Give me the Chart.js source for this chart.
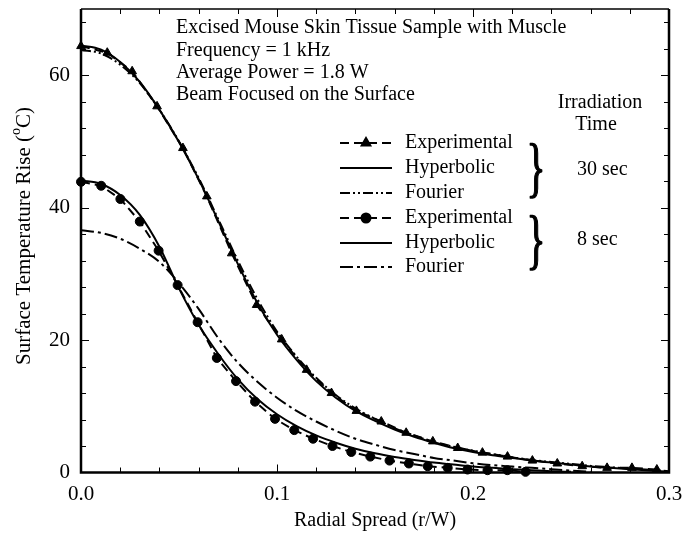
<!DOCTYPE html>
<html><head><meta charset="utf-8">
<script src="https://cdn.jsdelivr.net/npm/chart.js@4/dist/chart.umd.min.js"></script>
<style>html,body{margin:0;padding:0;background:#fff;} #wrap{width:684px;height:539px;position:relative;}</style>
</head><body><div id="wrap"><canvas id="c" width="684" height="539"></canvas></div>
<script>
const FONT = '"Liberation Serif", "Times New Roman", serif';

// Tick labels
const xTickValues = [0, 0.1, 0.2, 0.3];
const yTickValues = [0, 20, 40, 60];

// Experimental, 30 sec (triangles)
const exp30X = [0.000, 0.0134, 0.0261, 0.0388, 0.0520, 0.0642, 0.0769, 0.0896, 0.1024, 0.1151, 0.1278, 0.1405, 0.1532, 0.1659, 0.1795, 0.1922, 0.2048, 0.2176, 0.2303, 0.2430, 0.2557, 0.2684, 0.2811, 0.2938];
const exp30Y = [64.4, 63.4, 60.6, 55.3, 49.0, 41.7, 33.1, 25.3, 20.1, 15.5, 12.0, 9.3, 7.7, 6.0, 4.7, 3.7, 3.0, 2.4, 1.8, 1.36, 0.95, 0.7, 0.7, 0.45];

// Experimental, 8 sec (circles)
const exp8X = [0.000, 0.0103, 0.0201, 0.0300, 0.0396, 0.0493, 0.0595, 0.0693, 0.0791, 0.0888, 0.0990, 0.1088, 0.1184, 0.1283, 0.1379, 0.1476, 0.1574, 0.1673, 0.1769, 0.1871, 0.1972, 0.2074, 0.2175, 0.2268];
const exp8Y = [43.9, 43.3, 41.3, 37.9, 33.5, 28.3, 22.7, 17.3, 13.8, 10.7, 8.1, 6.4, 5.1, 4.0, 3.1, 2.4, 1.8, 1.36, 0.95, 0.7, 0.45, 0.35, 0.35, 0.1];

// Model curves, 30 sec
const curve30X = [0, 0.01, 0.02, 0.03, 0.04, 0.05, 0.06, 0.07, 0.08, 0.09, 0.10, 0.11, 0.12, 0.13, 0.14, 0.15, 0.16, 0.17, 0.18, 0.19, 0.20, 0.21, 0.22, 0.23, 0.24, 0.25, 0.26, 0.27, 0.28, 0.29, 0.30];
const hyp30Y = [64.5, 63.9, 62.0, 59.0, 54.8, 49.9, 44.3, 38.0, 31.5, 25.6, 20.8, 17.0, 13.8, 11.3, 9.3, 7.8, 6.5, 5.4, 4.5, 3.7, 3.1, 2.6, 2.2, 1.8, 1.5, 1.2, 0.9, 0.7, 0.5, 0.3, 0.1];
const four30Y = [63.8, 63.3, 61.6, 58.8, 54.8, 50.0, 44.5, 38.3, 32.0, 26.2, 21.3, 17.5, 14.3, 11.7, 9.7, 8.1, 6.7, 5.6, 4.6, 3.9, 3.3, 2.8, 2.3, 1.9, 1.6, 1.3, 1.0, 0.8, 0.6, 0.4, 0.2];

// Model curves, 8 sec
const hyp8X = [0, 0.01, 0.02, 0.03, 0.04, 0.05, 0.06, 0.07, 0.08, 0.09, 0.10, 0.11, 0.12, 0.13, 0.14, 0.15, 0.16, 0.17, 0.18, 0.19, 0.20, 0.21, 0.22, 0.23, 0.24, 0.25];
const hyp8Y = [44.1, 43.6, 41.9, 38.9, 34.1, 27.8, 22.3, 17.9, 14.1, 11.1, 8.8, 7.0, 5.6, 4.5, 3.6, 2.9, 2.35, 1.9, 1.5, 1.2, 0.9, 0.7, 0.5, 0.35, 0.2, 0.1];
const four8X = [0, 0.01, 0.02, 0.03, 0.04, 0.05, 0.06, 0.07, 0.08, 0.09, 0.10, 0.11, 0.12, 0.13, 0.14, 0.15, 0.16, 0.17, 0.18, 0.19, 0.20, 0.21, 0.22, 0.23, 0.24, 0.25, 0.26];
const four8Y = [36.6, 36.2, 35.3, 33.8, 31.8, 28.6, 24.7, 20.3, 16.6, 13.7, 11.3, 9.3, 7.7, 6.3, 5.1, 4.2, 3.4, 2.8, 2.2, 1.8, 1.4, 1.1, 0.9, 0.7, 0.5, 0.3, 0.1];

const infoLines = ['Excised Mouse Skin Tissue Sample with Muscle', 'Frequency = 1 kHz', 'Average Power = 1.8 W', 'Beam Focused on the Surface'];
const legendLabels = ['Experimental', 'Hyperbolic', 'Fourier', 'Experimental', 'Hyperbolic', 'Fourier'];
const groupLabels = ['30 sec', '8 sec'];

const DASH_EXP = [9, 5];
const DASH_F30 = [10, 3, 2, 3, 2, 3];
const DASH_F8 = [13, 4, 3, 4];

function pts(xs, ys) { return xs.map((x, i) => ({x: x, y: ys[i]})); }

function lineDs(data, dash) {
  return {data: data, borderColor: '#000', borderWidth: 2, borderDash: dash, pointRadius: 0,
    cubicInterpolationMode: 'monotone', fill: false, clip: false};
}

const datasets = [
  lineDs(pts(curve30X, four30Y), DASH_F30),
  lineDs(pts(curve30X, hyp30Y), []),
  lineDs(pts(four8X, four8Y), DASH_F8),
  lineDs(pts(hyp8X, hyp8Y), []),
  {data: pts(exp30X, exp30Y), borderColor: '#000', borderWidth: 2, borderDash: DASH_EXP, pointStyle: 'triangle',
   pointRadius: 5, pointBackgroundColor: '#000', pointBorderColor: '#000', pointBorderWidth: 1, fill: false, clip: false, tension: 0},
  {data: pts(exp8X, exp8Y), borderColor: '#000', borderWidth: 2, borderDash: DASH_EXP, pointStyle: 'circle',
   pointRadius: 4.5, pointBackgroundColor: '#000', pointBorderColor: '#000', pointBorderWidth: 1, fill: false, clip: false, tension: 0}
];

const decor = {
  id: 'decor',
  afterDraw(chart) {
    const ctx = chart.ctx, a = chart.chartArea, xs = chart.scales.x, ys = chart.scales.y;
    ctx.save();
    ctx.strokeStyle = '#000'; ctx.fillStyle = '#000';
    // frame
    ctx.setLineDash([]);
    ctx.lineWidth = 2.5;
    ctx.beginPath();
    ctx.moveTo(a.left, a.top); ctx.lineTo(a.left, a.bottom); ctx.lineTo(a.right, a.bottom); ctx.lineTo(a.right, a.top);
    ctx.stroke();
    ctx.lineWidth = 1.3;
    ctx.beginPath(); ctx.moveTo(a.left, a.top); ctx.lineTo(a.right, a.top); ctx.stroke();
    // inward ticks
    ctx.lineWidth = 1;
    for (let i = 1; i < 15; i++) {
      const v = i * 0.02, px = Math.round(xs.getPixelForValue(v)) + 0.5, len = (i % 5 === 0) ? 8 : 5;
      ctx.beginPath(); ctx.moveTo(px, a.bottom); ctx.lineTo(px, a.bottom - len);
      ctx.moveTo(px, a.top); ctx.lineTo(px, a.top + len); ctx.stroke();
    }
    for (let i = 1; i < 18; i++) {
      const v = i * 4, py = Math.round(ys.getPixelForValue(v)) + 0.5, len = (v % 20 === 0) ? 8 : 5;
      ctx.beginPath(); ctx.moveTo(a.left, py); ctx.lineTo(a.left + len, py);
      ctx.moveTo(a.right, py); ctx.lineTo(a.right - len, py); ctx.stroke();
    }
    // y title with superscript
    ctx.save();
    ctx.translate(23, 236); ctx.rotate(-Math.PI / 2);
    const f20 = '20px ' + FONT, f21 = '21px ' + FONT, f13 = '14px ' + FONT;
    ctx.font = f21; const p1 = 'Surface Temperature Rise (', p3 = 'C)';
    const w1 = ctx.measureText(p1).width, w3 = ctx.measureText(p3).width;
    ctx.font = f13; const w2 = ctx.measureText('o').width;
    let sx = -(w1 + w2 + w3) / 2;
    ctx.textBaseline = 'alphabetic'; ctx.textAlign = 'left';
    ctx.font = f21; ctx.fillText(p1, sx, 7); sx += w1;
    ctx.font = f13; ctx.fillText('o', sx, -3); sx += w2;
    ctx.font = f21; ctx.fillText(p3, sx, 7);
    ctx.restore();
    // info text
    ctx.font = f20; ctx.textBaseline = 'middle'; ctx.textAlign = 'left';
    const infoY = [28, 51, 73, 95];
    infoLines.forEach((t, i) => ctx.fillText(t, 176, infoY[i]));
    // Irradiation Time
    ctx.textAlign = 'center';
    ctx.fillText('Irradiation', 600, 103);
    ctx.fillText('Time', 596, 125);
    // legend
    const rowY = [143, 168, 193, 218, 243, 267];
    const dashes = [DASH_EXP, [], DASH_F30, DASH_EXP, [], DASH_F8];
    const markers = ['triangle', null, null, 'circle', null, null];
    for (let i = 0; i < 6; i++) {
      const y = rowY[i];
      ctx.lineWidth = 2; ctx.setLineDash(dashes[i]);
      ctx.beginPath(); ctx.moveTo(340, y); ctx.lineTo(392, y); ctx.stroke();
      ctx.setLineDash([]);
      if (markers[i]) {
        Chart.helpers.drawPoint(ctx, {pointStyle: markers[i], radius: markers[i] === 'triangle' ? 5 : 4.5, borderWidth: 1}, 366, y);
        ctx.fill();
      }
      ctx.textAlign = 'left'; ctx.textBaseline = 'middle'; ctx.font = f20;
      ctx.fillText(legendLabels[i], 405, y);
    }
    // braces
    const braceY = [170, 242];
    braceY.forEach((by, i) => {
      ctx.save();
      ctx.translate(536, by); ctx.scale(0.6, 1);
      ctx.font = '66px ' + FONT; ctx.textAlign = 'center'; ctx.textBaseline = 'alphabetic';
      ctx.lineWidth = 1.6; ctx.lineJoin = 'round';
      ctx.fillText('}', 0, 19);
      ctx.strokeText('}', 0, 19);
      ctx.restore();
      ctx.font = f20; ctx.textAlign = 'left'; ctx.textBaseline = 'middle';
      ctx.fillText(groupLabels[i], 577, i === 0 ? 170 : 240);
    });
    ctx.restore();
  }
};

new Chart(document.getElementById('c'), {
  type: 'line',
  data: {datasets: datasets},
  plugins: [decor],
  options: {
    responsive: false, animation: false, devicePixelRatio: 1,
    layout: {padding: {left: 0, right: 15, top: 9, bottom: 0}},
    plugins: {legend: {display: false}, tooltip: {enabled: false}},
    elements: {line: {borderCapStyle: 'butt'}},
    scales: {
      x: {
        type: 'linear', min: 0, max: 0.3,
        afterBuildTicks: s => { s.ticks = xTickValues.map(v => ({value: v})); },
        afterFit: s => { s.height = 66.5; s.paddingLeft = 0; s.paddingRight = 0; },
        grid: {display: false, drawTicks: false}, border: {display: false},
        ticks: {color: '#000', font: {family: FONT, size: 21}, padding: 9, maxRotation: 0,
          callback: v => Number(v).toFixed(1)},
        title: {display: true, text: 'Radial Spread (r/W)', color: '#000', font: {family: FONT, size: 20}, padding: {top: 0, bottom: 6}}
      },
      y: {
        type: 'linear', min: 0, max: 70,
        afterBuildTicks: s => { s.ticks = yTickValues.map(v => ({value: v})); },
        afterFit: s => { s.width = 81; s.paddingTop = 0; s.paddingBottom = 0; },
        grid: {display: false, drawTicks: false}, border: {display: false},
        ticks: {color: '#000', font: {family: FONT, size: 21}, padding: 11, callback: v => String(v)}
      }
    }
  }
});
</script></body></html>
